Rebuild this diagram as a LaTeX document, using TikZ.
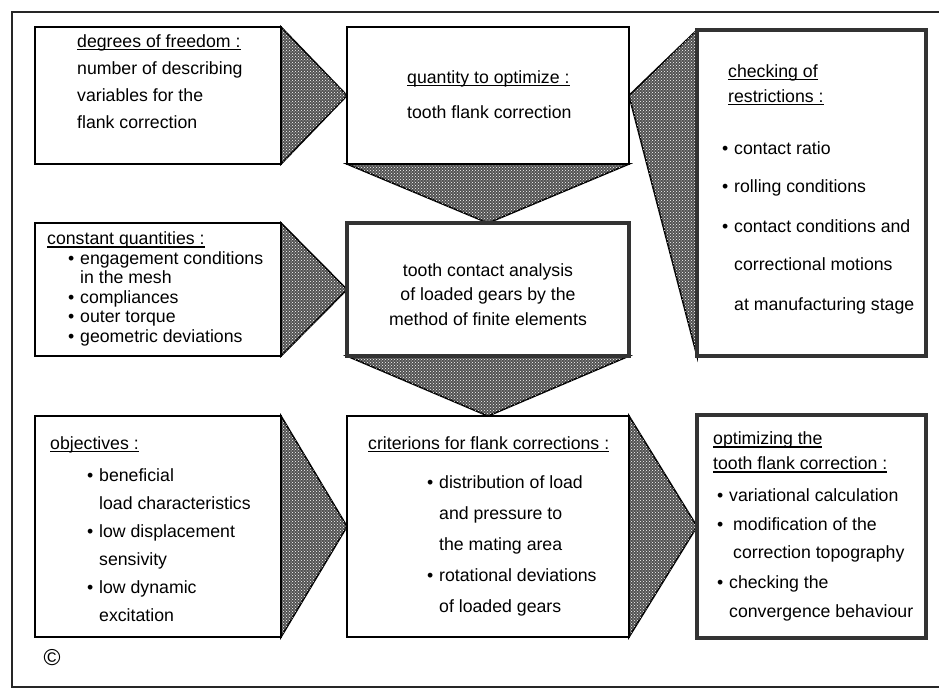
\documentclass[tikz,border=0pt]{standalone}
\usepackage{fontspec}
\setmainfont{Liberation Sans}
\usetikzlibrary{patterns, backgrounds}

% underlined heading, bullet and its blank twin
\newcommand{\ttl}[1]{\setbox0\hbox{#1}\rlap{\rule[-3pt]{\wd0}{1.1pt}}\box0}
\newcommand{\bul}{\makebox[12pt][l]{\textbullet}}
\newcommand{\nob}{\hspace*{12pt}}

\begin{document}
\begin{tikzpicture}[
    x=1pt, y=-1pt,
    % Styles
    box/.style={
        rectangle, draw=black, line width=1.8pt,
        fill=white, outer sep=0pt, inner sep=0pt
    },
    heavybox/.style={box, line width=4.5pt, draw=black!80},
    wedge/.style={
        draw=black, line width=1.6pt, line join=miter,
        fill=black!68,
        postaction={pattern=crosshatch dots, pattern color=white}
    },
    % texts hang from the baseline of their last line
    txt/.style={
        font=\fontsize{17.7}{#1}\selectfont,
        align=left, inner sep=0pt, anchor=base west
    },
    txt/.default=27
]
\useasboundingbox (0,0) rectangle (939,691);
\draw [line width=1.6pt, black!85] (12,12) rectangle (960,687);

% === TOP ROW ===
\node (dof) [box, minimum width=246, minimum height=137] at (158, 95.5) {};
\node (qty) [box, minimum width=282, minimum height=137] at (488, 95.5) {};
\node (chk) [heavybox, minimum width=229, minimum height=326] at (811.5, 193) {};

% === MIDDLE ROW ===
\node (cst) [box, minimum width=246, minimum height=133] at (158, 289.5) {};
\node (fem) [heavybox, minimum width=282, minimum height=133] at (488, 289.5) {};

% === BOTTOM ROW ===
\node (obj) [box, minimum width=246, minimum height=221] at (158, 526.5) {};
\node (crt) [box, minimum width=282, minimum height=221] at (488, 526.5) {};
\node (opt) [heavybox, minimum width=229, minimum height=223] at (811.5, 526.5) {};

% === WEDGES ===
\begin{scope}[on background layer]
\filldraw [wedge] (dof.north east) -- (qty.west) -- (dof.south east) -- cycle;
\filldraw [wedge] (cst.north east) -- (fem.west) -- (cst.south east) -- cycle;
\filldraw [wedge] (obj.north east) -- (crt.west) -- (obj.south east) -- cycle;
\filldraw [wedge] (crt.north east) -- (opt.west) -- (crt.south east) -- cycle;
\filldraw [wedge] (qty.south west) -- (fem.north) -- (qty.south east) -- cycle;
\filldraw [wedge] (fem.south west) -- (crt.north) -- (fem.south east) -- cycle;
\filldraw [wedge] (chk.north west) -- (qty.east) -- (chk.south west) -- cycle;
\end{scope}

% === TEXTS ===
\node (dof-t) [txt] at (77, 128) {\ttl{degrees of freedom :}\\number of describing\\variables for the\\flank correction};
\node (qty-t) [txt=35] at (407, 118) {\ttl{quantity to optimize :}\\tooth flank correction};
\node (chk-t) [txt=25] at (722, 310) {\hspace*{6pt}\ttl{checking of}\\\hspace*{6pt}\ttl{restrictions :}\\[27pt]\bul contact ratio\\[13pt]\bul rolling conditions\\[15pt]\bul contact conditions and\\[13pt]\nob correctional motions\\[15pt]\nob at manufacturing stage};

\node (cst-t) [txt=19.5] at (47, 342) {\ttl{constant quantities :}\\\hspace*{21pt}\bul engagement conditions\\\hspace*{21pt}\nob in the mesh\\\hspace*{21pt}\bul compliances\\\hspace*{21pt}\bul outer torque\\\hspace*{21pt}\bul geometric deviations};
\node (fem-t) [txt=24.5, align=center, anchor=base] at (488, 325) {tooth contact analysis\\of loaded gears by the\\method of finite elements};

\node (obj-t) [txt=28] at (50, 621) {\ttl{objectives :}\\[4pt]\hspace*{37pt}\bul beneficial\\\hspace*{37pt}\nob load characteristics\\\hspace*{37pt}\bul low displacement\\\hspace*{37pt}\nob sensivity\\\hspace*{37pt}\bul low dynamic\\\hspace*{37pt}\nob excitation};
\node (crt-t) [txt=31] at (368, 612) {\ttl{criterions for flank corrections :}\\[8pt]\hspace*{59pt}\bul distribution of load\\\hspace*{59pt}\nob and pressure to\\\hspace*{59pt}\nob the mating area\\\hspace*{59pt}\bul rotational deviations\\\hspace*{59pt}\nob of loaded gears};
\node (opt-t) [txt=25] at (713, 617) {\ttl{optimizing the}\\\ttl{tooth flank correction :}\\[7pt]\hspace*{4pt}\bul variational calculation\\[3.5pt]\hspace*{4pt}\bul\hspace*{4pt}modification of the\\[3.5pt]\hspace*{4pt}\nob\hspace*{4pt}correction topography\\[4.5pt]\hspace*{4pt}\bul checking the\\[4pt]\hspace*{4pt}\nob convergence behaviour};

\node (copy) [font=\fontsize{23}{23}\selectfont] at (52, 658) {\textcopyright};

\end{tikzpicture}
\end{document}
